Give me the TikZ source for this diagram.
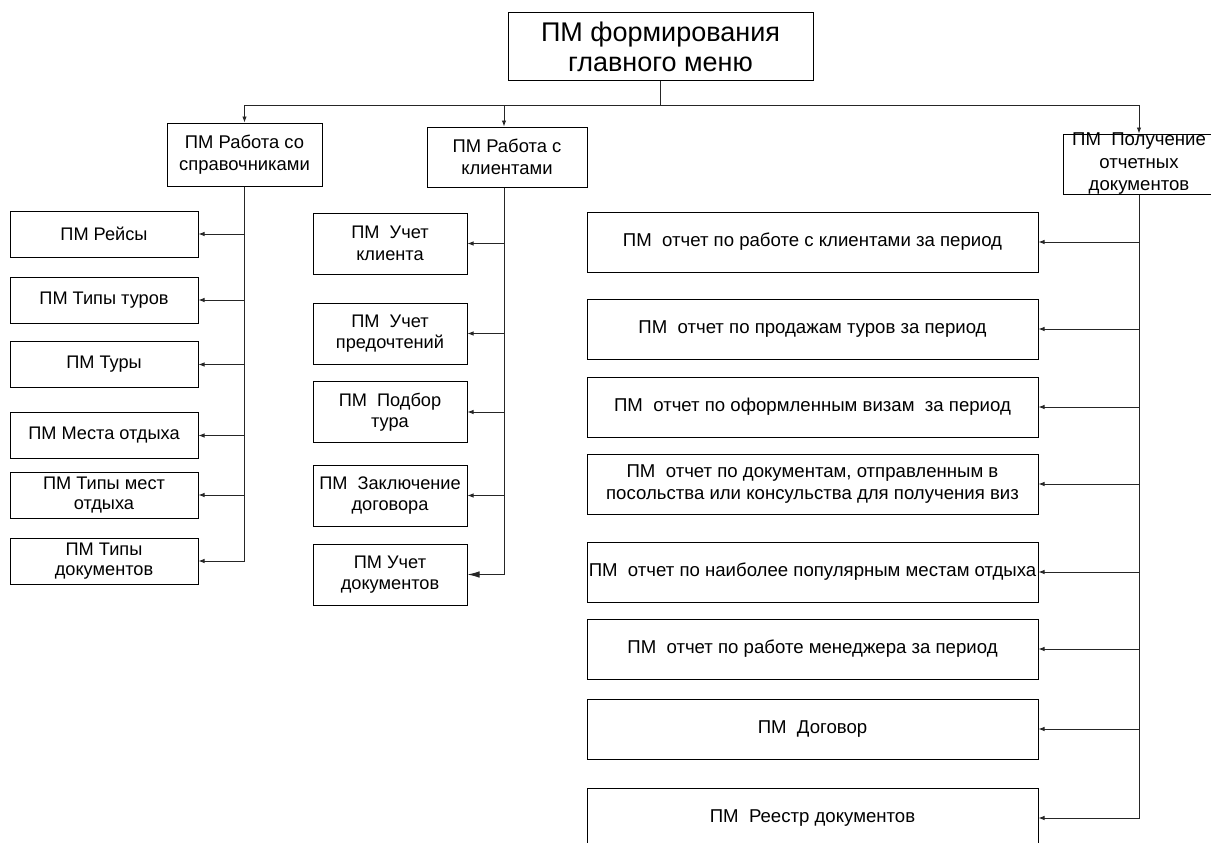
\documentclass[tikz,border=0pt]{standalone}
\usepackage{fontspec}
\setmainfont{Liberation Sans}
\usetikzlibrary{arrows.meta}

\begin{document}
\begin{tikzpicture}[x=1pt,y=-1pt,
  box/.style={draw=black, line width=1pt, fill=white, inner sep=0pt},
  txt/.style={inner sep=0pt, align=center, font=\fontsize{18.2}{20}\selectfont},
  txtm/.style={txt, font=\fontsize{18.2}{21.5}\selectfont},
  txts/.style={txt, font=\fontsize{18.4}{22}\selectfont},
  txtr/.style={txt, font=\fontsize{18.6}{22}\selectfont},
  txtbig/.style={txt, font=\fontsize{27}{29.5}\selectfont},
  conn/.style={draw=black!85, line width=0.9pt},
  tip/.style={conn, -{Latex[length=6pt,width=4.5pt]}},
  bigtip/.style={conn, -{Latex[length=12pt,width=6.5pt]}},
]
\path[use as bounding box] (0,0) rectangle (1211,843);
\clip (0,0) rectangle (1211,843);

% root and second level
\node[box, minimum width=305pt, minimum height=68pt] (root) at (660.5,47) {};
\node[txtbig] (root-t) at (root.center) {ПМ формирования\\главного меню};

\node[box, minimum width=155pt, minimum height=63pt] (sprav) at (244.5,154.5) {};
\node[txts] (sprav-t) at (sprav.center) {ПМ Работа со\\справочниками};

\node[box, minimum width=160pt, minimum height=60pt] (klient) at (507,157) {};
\node[txts] (klient-t) at (klient.center) {ПМ Работа с\\клиентами};

\node[box, minimum width=152pt, minimum height=60pt] (otch) at (1139,164) {};
\node[txt, font=\fontsize{18.6}{22.5}\selectfont] (otch-t) at (otch.center) {ПМ~ Получение\\отчетных\\документов};

% reference books column
\node[box, minimum width=188pt, minimum height=46pt] (l1) at (104,234) {};
\node[txt] (l1-t) at (l1.center) {ПМ Рейсы};
\node[box, minimum width=188pt, minimum height=46pt] (l2) at (104,300) {};
\node[txt] (l2-t) at (l2.center) {ПМ Типы туров};
\node[box, minimum width=188pt, minimum height=46pt] (l3) at (104,364.5) {};
\node[txt] (l3-t) at (l3.center) {ПМ Туры};
\node[box, minimum width=188pt, minimum height=46pt] (l4) at (104,435.5) {};
\node[txt] (l4-t) at (l4.center) {ПМ Места отдыха};
\node[box, minimum width=188pt, minimum height=46pt] (l5) at (104,495) {};
\node[txt] (l5-t) at (l5.center) {ПМ Типы мест\\отдыха};
\node[box, minimum width=188pt, minimum height=46pt] (l6) at (104,561) {};
\node[txt] (l6-t) at (l6.center) {ПМ Типы\\документов};

% clients column
\node[box, minimum width=154pt, minimum height=61pt] (m1) at (390,243.5) {};
\node[txtm] (m1-t) at (m1.center) {ПМ~ Учет\\клиента};
\node[box, minimum width=154pt, minimum height=61pt] (m2) at (390,333.5) {};
\node[txtm] (m2-t) at (m2.center) {ПМ~ Учет\\предочтений};
\node[box, minimum width=154pt, minimum height=61pt] (m3) at (390,412) {};
\node[txtm] (m3-t) at (m3.center) {ПМ~ Подбор\\тура};
\node[box, minimum width=154pt, minimum height=61pt] (m4) at (390,495.5) {};
\node[txtm] (m4-t) at (m4.center) {ПМ~ Заключение\\договора};
\node[box, minimum width=154pt, minimum height=61pt] (m5) at (390,574.5) {};
\node[txtm] (m5-t) at (m5.center) {ПМ Учет\\документов};

% reports column
\node[box, minimum width=451pt, minimum height=60pt] (r1) at (812.5,242) {};
\node[txtr] (r1-t) at (r1.center) {ПМ~ отчет по работе с клиентами за период};
\node[box, minimum width=451pt, minimum height=60pt] (r2) at (812.5,329) {};
\node[txtr] (r2-t) at (r2.center) {ПМ~ отчет по продажам туров за период};
\node[box, minimum width=451pt, minimum height=60pt] (r3) at (812.5,407) {};
\node[txtr] (r3-t) at (r3.center) {ПМ~ отчет по оформленным визам~ за период};
\node[box, minimum width=451pt, minimum height=60pt] (r4) at (812.5,484) {};
\node[txtr] (r4-t) at (r4.center) {ПМ~ отчет по документам, отправленным в\\посольства или консульства для получения виз};
\node[box, minimum width=451pt, minimum height=60pt] (r5) at (812.5,572) {};
\node[txtr] (r5-t) at (r5.center) {ПМ~ отчет по наиболее популярным местам отдыха};
\node[box, minimum width=451pt, minimum height=60pt] (r6) at (812.5,649) {};
\node[txtr] (r6-t) at (r6.center) {ПМ~ отчет по работе менеджера за период};
\node[box, minimum width=451pt, minimum height=60pt] (r7) at (812.5,729) {};
\node[txtr] (r7-t) at (r7.center) {ПМ~ Договор};
\node[box, minimum width=451pt, minimum height=60pt] (r8) at (812.5,818) {};
\node[txtr] (r8-t) at (r8.center) {ПМ~ Реестр документов};

% top bus
\coordinate (bus) at (660.5,105);
\draw[tip] (root.south) -- (bus) -| (sprav.north);
\draw[tip] (root.south) -- (bus) -| ([xshift=-3pt]klient.north);
\draw[tip] (root.south) -- (bus) -| (otch.north);

% branches
\foreach \c in {l1,l2,l3,l4,l5,l6}
  \draw[tip] (sprav.south) |- (\c.east);
\foreach \c in {m1,m2,m3,m4}
  \draw[tip] ([xshift=-3pt]klient.south) |- (\c.east);
\draw[bigtip] ([xshift=-3pt]klient.south) |- (m5.east);
\foreach \c in {r1,r2,r3,r4,r5,r6,r7,r8}
  \draw[tip] (otch.south) |- (\c.east);
\end{tikzpicture}
\end{document}
